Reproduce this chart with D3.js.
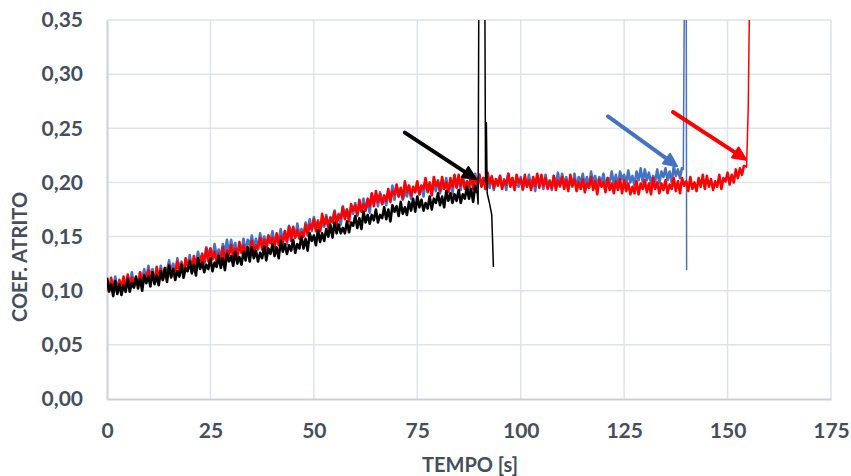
<!DOCTYPE html>
<html>
<head>
<meta charset="utf-8">
<script src="https://cdn.jsdelivr.net/npm/d3@7"></script>
<style>
  body { margin: 0; background: #fff; }
  text { font-family: Lato, "Open Sans", sans-serif; font-weight: bold; fill: #434e5e; }
</style>
</head>
<body>
<div id="chart"></div>
<script>
// Data: coef. values in thousandths, one reading every 0.5 s from t = 0
const step = 0.5

const blueCoef = [
  111,99,107,103,113,101,109,98,112,105,
  113,104,117,106,112,105,117,109,120,109,
  123,113,120,110,117,112,123,111,121,118,
  128,117,125,115,130,120,127,119,126,123,
  133,121,129,126,136,126,134,123,140,133,
  139,130,143,132,138,131,143,135,147,134,
  147,137,144,134,141,136,148,135,147,142,
  151,140,148,138,153,143,150,141,151,145,
  155,143,151,147,157,146,155,143,160,153,
  158,149,162,151,157,150,163,155,166,155,
  168,158,165,155,163,159,170,158,168,165,
  174,163,171,161,178,168,175,166,175,171,
  181,169,177,174,185,174,183,172,189,182,
  187,178,191,180,186,179,191,184,197,184,
  197,187,194,184,191,187,197,185,195,191,
  200,189,197,187,202,192,199,190,198,192,
  202,190,198,194,204,192,200,189,206,197,
  202,193,206,195,201,192,205,197,208,195,
  207,197,204,194,201,195,206,193,203,198,
  206,195,203,193,208,198,204,194,202,196,
  205,193,201,197,207,195,203,192,206,199,
  203,194,207,196,202,193,206,198,209,196,
  208,198,205,195,202,196,208,195,205,200,
  208,197,205,195,210,200,206,197,205,199,
  208,196,204,200,210,198,207,196,210,203,
  207,198,211,200,206,197,210,202,213,200,
  212,202,209,199,206,201,212,199,210,205,
  213,202,210,200,215,206,212,204,214
]
const blueTail = [[139.3, 0.212], [139.6, 0.40], [140.0, 0.40], [140.1, 0.119]]

const redCoef = [
  108,99,112,101,107,98,110,102,113,100,
  115,105,112,103,110,105,117,104,115,110,
  119,108,117,107,122,112,120,110,118,114,
  124,112,120,117,127,116,125,114,130,123,
  128,119,132,122,130,123,134,126,139,127,
  139,129,136,127,134,128,140,127,137,133,
  142,131,139,129,145,135,142,132,140,136,
  146,134,142,139,149,138,147,135,151,144,
  149,140,153,142,150,143,155,146,159,146,
  159,149,156,148,154,150,161,151,161,157,
  166,155,164,155,171,161,168,159,167,163,
  173,161,170,167,177,166,175,164,180,174,
  179,170,184,173,180,174,185,178,190,178,
  192,182,189,180,188,183,194,182,192,189,
  198,187,195,185,201,191,197,188,196,191,
  201,189,197,194,204,191,200,188,205,197,
  201,192,205,194,200,191,204,196,207,195,
  207,197,204,194,201,196,207,194,204,199,
  207,196,204,194,209,199,205,195,203,197,
  206,194,202,198,208,196,204,193,207,200,
  203,194,207,196,202,193,205,197,208,195,
  207,197,204,194,201,195,206,193,202,197,
  205,194,202,192,207,197,203,192,200,194,
  203,191,199,195,205,193,201,189,203,196,
  200,191,204,193,199,190,201,193,203,190,
  202,192,199,189,196,190,201,189,199,194,
  202,191,199,189,204,194,200,190,199,193,
  202,190,198,194,204,192,201,190,204,197,
  201,192,205,194,200,192,204,196,207,194,
  206,196,203,193,201,196,207,194,204,201,
  209,198,207,200,212,204,213,207,216
]
const redTail = [[154.6, 0.214], [155.0, 0.27], [155.4, 0.40]]

const blackCoef = [
  112,100,106,95,109,97,106,96,105,99,
  111,99,107,103,113,102,111,100,114,107,
  113,104,117,106,114,105,118,110,121,108,
  123,113,120,110,118,113,124,112,121,118,
  127,116,124,114,130,120,126,117,124,120,
  130,118,126,122,132,121,130,119,134,127,
  132,123,136,125,131,124,136,128,140,127,
  140,130,137,127,135,130,141,128,139,134,
  143,132,140,130,146,136,143,134,142,137,
  147,135,143,139,150,139,148,137,153,146,
  151,142,156,145,153,146,157,150,161,149,
  163,153,161,153,158,153,164,154,163,160,
  169,158,167,157,173,163,170,162,170,165,
  175,163,170,167,177,166,175,164,179,173,
  178,169,182,171,177,170,182,174,185,173,
  187,177,184,174,181,176,187,175,185,181,
  190,179,187,177,192,183,190,181,189,183,
  193,181,189,185,196,185,194,182,197,190
]
const blackTail = [[89.7, 0.18], [89.9, 0.40], [91.3, 0.40], [91.5, 0.20], [91.7, 0.255],
  [91.9, 0.19], [92.5, 0.18], [93.0, 0.17], [93.4, 0.122]]

// arrows: [t0, v0, t1, v1]
const arrows = [
  { color: '#000000', pts: [72.0, 0.246, 89.2, 0.203] },
  { color: '#4472C4', pts: [121.1, 0.261, 137.8, 0.215] },
  { color: '#FF0000', pts: [136.8, 0.265, 154.5, 0.221] }
]

const xTicks = [0, 25, 50, 75, 100, 125, 150, 175]
const yTicks = [0, 0.05, 0.10, 0.15, 0.20, 0.25, 0.30, 0.35]

// Dimensions
const width = 851, height = 476
const margin = { left: 107, top: 20 }
const ctrWidth = 831 - margin.left
const ctrHeight = 399 - margin.top

const svg = d3.select('#chart').append('svg')
  .attr('width', width).attr('height', height)

const ctr = svg.append('g').attr('transform', `translate(${margin.left},${margin.top})`)

const xScale = d3.scaleLinear().domain([0, 175]).range([0, ctrWidth])
const yScale = d3.scaleLinear().domain([0, 0.35]).range([ctrHeight, 0])

// grid
ctr.append('g').selectAll('line').data(xTicks.slice(1)).join('line')
  .attr('x1', d => xScale(d)).attr('x2', d => xScale(d))
  .attr('y1', 0).attr('y2', ctrHeight)
  .attr('stroke', '#dde3ec').attr('stroke-width', 1.5)
ctr.append('g').selectAll('line').data(yTicks.slice(1)).join('line')
  .attr('x1', 0).attr('x2', ctrWidth)
  .attr('y1', d => yScale(d)).attr('y2', d => yScale(d))
  .attr('stroke', '#dde3ec').attr('stroke-width', 1.5)

// axes
const xAxis = d3.axisBottom(xScale).tickValues(xTicks).tickSize(0).tickPadding(24).tickFormat(d3.format('d'))
const yAxis = d3.axisLeft(yScale).tickValues(yTicks).tickSize(0).tickPadding(24)
  .tickFormat(d => d3.format('.2f')(d).replace('.', ','))

const xg = ctr.append('g').attr('transform', `translate(0,${ctrHeight})`).call(xAxis)
const yg = ctr.append('g').call(yAxis)
;[xg, yg].forEach(g => {
  g.select('.domain').attr('stroke', '#c9d0db').attr('stroke-width', 2)
  g.selectAll('text').attr('font-size', 21).attr('fill', '#434e5e')
    .attr('font-family', 'Lato, sans-serif').attr('font-weight', 'bold')
})

// lines: the noisy part is drawn thick, the final break spikes thin
svg.append('defs').append('clipPath').attr('id', 'clip')
  .append('rect').attr('width', ctrWidth).attr('height', ctrHeight)

const toPts = arr => arr.map((v, i) => [i * step, v / 1000])
const line = d3.line().x(d => xScale(d[0])).y(d => yScale(d[1]))

const series = [
  { color: '#4472C4', pts: toPts(blueCoef), tail: blueTail },
  { color: '#FF0000', pts: toPts(redCoef), tail: redTail },
  { color: '#000000', pts: toPts(blackCoef), tail: blackTail }
]

const linesG = ctr.append('g').attr('clip-path', 'url(#clip)')
series.forEach(s => {
  linesG.append('path')
    .attr('d', line(s.pts))
    .attr('fill', 'none').attr('stroke', s.color)
    .attr('stroke-width', 2.6).attr('stroke-linejoin', 'round')
  linesG.append('path')
    .attr('d', line([s.pts[s.pts.length - 1]].concat(s.tail)))
    .attr('fill', 'none').attr('stroke', s.color)
    .attr('stroke-width', 1.5).attr('stroke-linejoin', 'round')
})

// arrows
const arrowG = ctr.append('g')
arrows.forEach(a => {
  const [t0, v0, t1, v1] = a.pts
  const x0 = xScale(t0), y0 = yScale(v0), x1 = xScale(t1), y1 = yScale(v1)
  const ang = Math.atan2(y1 - y0, x1 - x0)
  const len = 13, half = 6
  const bx = x1 - len * Math.cos(ang), by = y1 - len * Math.sin(ang)
  arrowG.append('line')
    .attr('x1', x0).attr('y1', y0).attr('x2', bx).attr('y2', by)
    .attr('stroke', a.color).attr('stroke-width', 4).attr('stroke-linecap', 'round')
  arrowG.append('path')
    .attr('d', `M${x1},${y1}L${bx - half * Math.sin(ang)},${by + half * Math.cos(ang)}L${bx + half * Math.sin(ang)},${by - half * Math.cos(ang)}Z`)
    .attr('fill', a.color).attr('stroke', a.color).attr('stroke-width', 2).attr('stroke-linejoin', 'round')
})

// titles
svg.append('text')
  .attr('x', 470).attr('y', 472)
  .attr('text-anchor', 'middle').attr('font-size', 20)
  .text('TEMPO [s]')
svg.append('text')
  .attr('transform', 'translate(27,257) rotate(-90)')
  .attr('text-anchor', 'middle').attr('font-size', 20)
  .text('COEF. ATRITO')
</script>
</body>
</html>
